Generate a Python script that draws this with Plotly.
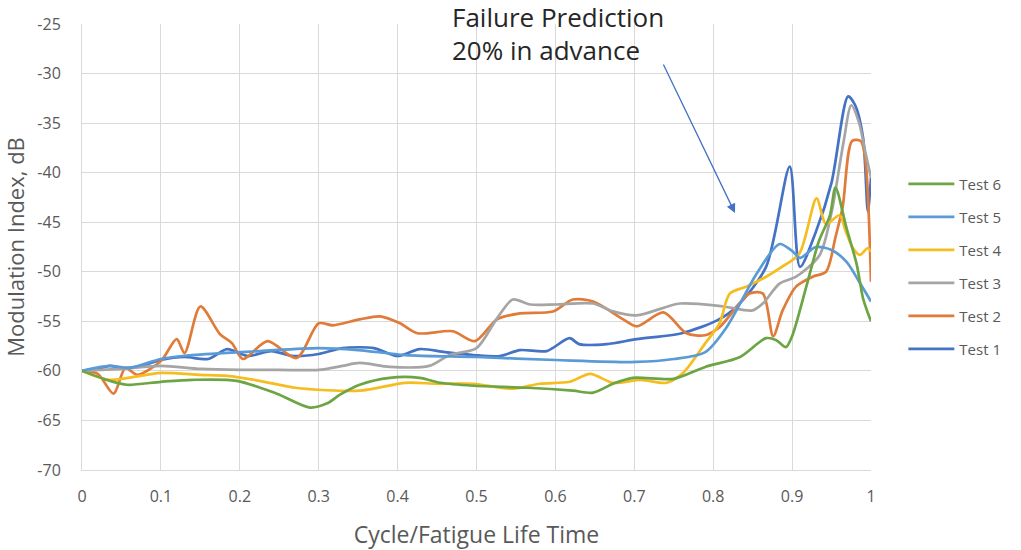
import plotly.graph_objects as go

names = ["Test 1", "Test 2", "Test 3", "Test 4", "Test 5", "Test 6"]
colors = ["#4472C4", "#E07B39", "#A5A5A5", "#F5BD1F", "#5B9BD5", "#6DA545"]

x1 = [0, 0.02, 0.035, 0.05, 0.07, 0.1, 0.13, 0.16, 0.184, 0.21, 0.24, 0.268, 0.3, 0.33, 0.37, 0.4,
      0.428, 0.46, 0.496, 0.53, 0.555, 0.589, 0.618, 0.63, 0.665, 0.703, 0.76, 0.805, 0.83, 0.867,
      0.897, 0.91, 0.93, 0.95, 0.971, 0.98, 0.99, 0.996, 1.0]
y1 = [-60, -59.8, -59.5, -59.7, -59.6, -58.9, -58.6, -58.8, -57.8, -58.5, -58, -58.5, -58.3, -57.7,
      -57.7, -58.5, -57.8, -58.1, -58.4, -58.5, -57.9, -58, -56.7, -57.3, -57.3, -56.8, -56.2, -54.9,
      -53.5, -49.5, -39.4, -49.5, -46, -41, -32.3, -33.2, -36.5, -43.9, -40.5]

x2 = [0, 0.02, 0.04, 0.055, 0.07, 0.1, 0.12, 0.13, 0.15, 0.175, 0.19, 0.204, 0.235, 0.272, 0.3,
      0.318, 0.352, 0.378, 0.403, 0.425, 0.47, 0.498, 0.526, 0.555, 0.597, 0.622, 0.648, 0.686,
      0.703, 0.737, 0.766, 0.79, 0.808, 0.846, 0.863, 0.876, 0.888, 0.905, 0.926, 0.943, 0.955,
      0.964, 0.976, 0.987, 0.993, 1.0]
y2 = [-60, -60.3, -62.3, -59.7, -60.4, -59, -56.8, -58.2, -53.5, -56.3, -57.2, -58.8, -57, -58.7,
      -55.2, -55.4, -54.8, -54.5, -55.2, -56.2, -56, -57, -54.8, -54.2, -54, -52.8, -53, -54.8,
      -55.5, -54.1, -56.2, -56.4, -55.6, -52.2, -52.2, -56.5, -53.9, -51.5, -50.5, -50, -46.5,
      -43.5, -36.8, -36.8, -38.8, -51]

x3 = [0, 0.05, 0.1, 0.15, 0.2, 0.25, 0.3, 0.33, 0.352, 0.39, 0.44, 0.466, 0.5, 0.526, 0.546, 0.568,
      0.6, 0.648, 0.673, 0.703, 0.758, 0.813, 0.85, 0.863, 0.884, 0.905, 0.935, 0.95, 0.965, 0.975,
      0.985, 0.993, 1.0]
y3 = [-60, -59.8, -59.5, -59.8, -59.9, -59.9, -59.9, -59.5, -59.2, -59.6, -59.5, -58.4, -57.7, -54.7,
      -52.8, -53.3, -53.3, -53.2, -54, -54.4, -53.2, -53.5, -53.9, -53.2, -51.2, -50.5, -48.3, -44,
      -37, -33.2, -35, -38, -40.5]

x4 = [0, 0.035, 0.1, 0.15, 0.184, 0.225, 0.27, 0.352, 0.41, 0.45, 0.496, 0.546, 0.58, 0.618, 0.644,
      0.673, 0.708, 0.741, 0.762, 0.79, 0.808, 0.821, 0.842, 0.867, 0.885, 0.909, 0.931, 0.943, 0.96,
      0.968, 0.977, 0.986, 0.996, 1.0]
y4 = [-60, -60.9, -60.2, -60.4, -60.5, -61, -61.7, -62, -61.2, -61.3, -61.3, -61.8, -61.3, -61.1,
      -60.3, -61.2, -60.9, -61.2, -60.2, -57.2, -55.2, -52.2, -51.5, -50.5, -49.6, -48.2, -42.6,
      -45.2, -44.3, -45.9, -47.6, -48.3, -47.6, -48]

x5 = [0, 0.035, 0.06, 0.1, 0.14, 0.225, 0.3, 0.35, 0.41, 0.5, 0.6, 0.703, 0.75, 0.79, 0.817, 0.855,
      0.884, 0.9, 0.91, 0.93, 0.95, 0.969, 0.985, 1.0]
y5 = [-60, -59.5, -59.7, -58.8, -58.4, -58, -57.7, -57.9, -58.4, -58.6, -58.9, -59.1, -58.8, -58.1,
      -55.6, -50.2, -47.2, -47.9, -48.6, -47.5, -47.8, -49, -51, -53]

x6 = [0, 0.035, 0.057, 0.1, 0.14, 0.196, 0.247, 0.289, 0.31, 0.327, 0.352, 0.39, 0.428, 0.454, 0.496,
      0.564, 0.622, 0.648, 0.673, 0.698, 0.75, 0.79, 0.834, 0.867, 0.88, 0.892, 0.9, 0.918, 0.934,
      0.948, 0.955, 0.969, 0.982, 0.99, 1.0]
y6 = [-60, -61, -61.4, -61.1, -60.9, -61, -62.3, -63.7, -63.3, -62.4, -61.4, -60.7, -60.7, -61.2,
      -61.5, -61.7, -62, -62.2, -61.3, -60.7, -60.8, -59.6, -58.6, -56.7, -56.9, -57.6, -56.5, -51.5,
      -46.9, -44.3, -41.5, -45.6, -49.3, -52.7, -55]

xs = [x1, x2, x3, x4, x5, x6]
ys = [y1, y2, y3, y4, y5, y6]

x_ticks = [0, 0.1, 0.2, 0.3, 0.4, 0.5, 0.6, 0.7, 0.8, 0.9, 1]
x_ticklabels = ["0", "0.1", "0.2", "0.3", "0.4", "0.5", "0.6", "0.7", "0.8", "0.9", "1"]
y_ticks = [-70, -65, -60, -55, -50, -45, -40, -35, -30, -25]
y_ticklabels = ["-70", "-65", "-60", "-55", "-50", "-45", "-40", "-35", "-30", "-25"]

annotation_lines = ["Failure Prediction", "20% in advance"]

fig = go.Figure()
for i, (n, c, xx, yy) in enumerate(zip(names, colors, xs, ys)):
    fig.add_trace(go.Scatter(x=xx, y=yy, name=n, mode="lines",
                             line=dict(color=c, width=2.7, shape="spline", smoothing=0.8),
                             legendgroup=n, legendrank=len(names) - i))

font_family = "Open Sans, Liberation Sans, sans-serif"
grid = "#D9D9D9"
txt = "#595959"

fig.update_layout(
    template="none",
    width=1021, height=550,
    margin=dict(l=82, r=150, t=24, b=80, autoexpand=False),
    paper_bgcolor="white", plot_bgcolor="white",
    font=dict(family=font_family, color=txt, size=15),
    legend=dict(x=1.041, y=0.678, xanchor="left", yanchor="top", traceorder="grouped",
                tracegroupgap=10.5, itemwidth=46, font=dict(size=15, color=txt),
                bgcolor="rgba(0,0,0,0)"),
    showlegend=True,
)
fig.update_xaxes(range=[0, 1], tickvals=x_ticks, ticktext=x_ticklabels, showgrid=True,
                 gridcolor=grid, gridwidth=1, zeroline=False, showline=True, linecolor=grid,
                 linewidth=1, ticks="", ticklabelstandoff=12, automargin=False,
                 tickfont=dict(size=16, color=txt),
                 title=dict(text="Cycle/Fatigue Life Time", font=dict(size=23, color=txt),
                            standoff=22))
fig.update_yaxes(range=[-70, -25], tickvals=y_ticks, ticktext=y_ticklabels, showgrid=True,
                 gridcolor=grid, gridwidth=1, zeroline=False, showline=True, linecolor=grid,
                 linewidth=1, ticks="", ticklabelstandoff=17, automargin=False,
                 tickfont=dict(size=16, color=txt),
                 title=dict(text="Modulation Index, dB", font=dict(size=22, color=txt),
                            standoff=22))

fig.add_annotation(x=0.466, y=1.0157, xref="x", yref="paper", text=annotation_lines[0],
                   showarrow=False, xanchor="left", yanchor="middle",
                   font=dict(size=26, color="#262626", family=font_family))
fig.add_annotation(x=0.466, y=0.9417, xref="x", yref="paper", text=annotation_lines[1],
                   showarrow=False, xanchor="left", yanchor="middle",
                   font=dict(size=26, color="#262626", family=font_family))
fig.add_annotation(x=0.8276, y=-44.07, ax=0.736, ay=-28.94, xref="x", yref="y", axref="x",
                   ayref="y", text="", showarrow=True, arrowhead=2, arrowsize=1.4, arrowwidth=1.3,
                   arrowcolor="#4472C4")

fig.write_html("out.html", config={"displayModeBar": False},
               post_script="document.body.style.margin='0';")
